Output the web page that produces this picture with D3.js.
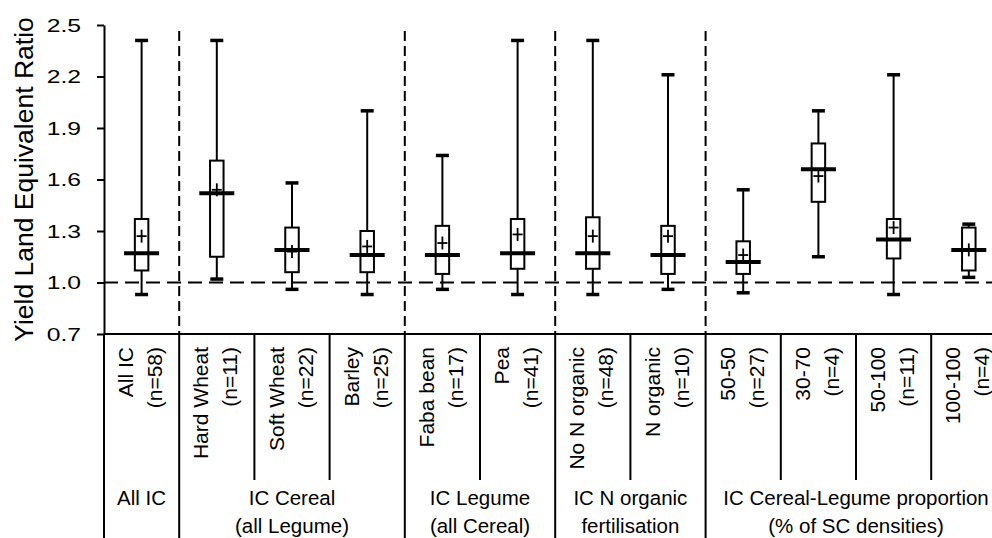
<!DOCTYPE html>
<html>
<head>
<meta charset="utf-8">
<script src="https://cdn.jsdelivr.net/npm/d3@7"></script>
<style>
  html, body { margin: 0; padding: 0; background: #fff; }
  svg { display: block; }
  text { font-family: "Liberation Sans", Arial, sans-serif; fill: #000; }
</style>
</head>
<body>
<svg id="chart" width="992" height="538"></svg>
<script>
// ---- data ----
const categories = ["All IC", "Hard Wheat", "Soft Wheat", "Barley", "Faba bean", "Pea",
                    "No N organic", "N organic", "50-50", "30-70", "50-100", "100-100"];
const sampleSizes = ["(n=58)", "(n=11)", "(n=22)", "(n=25)", "(n=17)", "(n=41)",
                     "(n=48)", "(n=10)", "(n=27)", "(n=4)", "(n=11)", "(n=4)"];
const minValues    = [0.93, 1.02, 0.96, 0.93, 0.96, 0.93, 0.93, 0.96, 0.94, 1.15, 0.93, 1.03];
const q1Values     = [1.07, 1.15, 1.06, 1.06, 1.05, 1.08, 1.08, 1.05, 1.05, 1.47, 1.14, 1.07];
const medianValues = [1.17, 1.52, 1.19, 1.16, 1.16, 1.17, 1.17, 1.16, 1.12, 1.66, 1.25, 1.19];
const meanValues   = [1.27, 1.54, 1.18, 1.21, 1.23, 1.28, 1.27, 1.27, 1.16, 1.62, 1.32, 1.19];
const q3Values     = [1.37, 1.71, 1.32, 1.30, 1.33, 1.37, 1.38, 1.33, 1.24, 1.81, 1.37, 1.32];
const maxValues    = [2.41, 2.41, 1.58, 2.00, 1.74, 2.41, 2.41, 2.21, 1.54, 2.00, 2.21, 1.34];

const groupTitles    = ["All IC", "IC Cereal", "IC Legume", "IC N organic", "IC Cereal-Legume proportion"];
const groupSubtitles = ["", "(all Legume)", "(all Cereal)", "fertilisation", "(% of SC densities)"];
const groupSizes     = [1, 3, 2, 2, 4];

const yTicks = [0.7, 1.0, 1.3, 1.6, 1.9, 2.2, 2.5];
const referenceValue = 1.0;
const yTitle = "Yield Land Equivalent Ratio";

// ---- layout ----
const svg = d3.select("#chart");
const W = 992, H = 538;
const plotLeft = 104, plotRight = 1006.4, plotTop = 25, axisY = 334;

const x = d3.scaleBand().domain(categories).range([plotLeft, plotRight]).padding(0);
const y = d3.scaleLinear().domain([0.7, 2.5]).range([axisY, plotTop]);

const ink = "#000";

// group starts
const groupStart = [];
let acc = 0;
groupSizes.forEach(s => { groupStart.push(acc); acc += s; });

// separators between groups (dashed above axis, solid below)
const sepG = svg.append("g");
groupStart.slice(1).forEach(i => {
  const xx = x(categories[i]);
  sepG.append("line").attr("x1", xx).attr("x2", xx).attr("y1", 31).attr("y2", axisY)
    .attr("stroke", ink).attr("stroke-width", 2).attr("stroke-dasharray", "10,5");
  sepG.append("line").attr("x1", xx).attr("x2", xx).attr("y1", axisY).attr("y2", H)
    .attr("stroke", ink).attr("stroke-width", 2);
});
// sub-separators within groups (below axis)
categories.forEach((c, i) => {
  if (i === 0 || groupStart.includes(i)) return;
  const xx = x(c);
  sepG.append("line").attr("x1", xx).attr("x2", xx).attr("y1", axisY).attr("y2", 480)
    .attr("stroke", ink).attr("stroke-width", 2);
});

// reference dashed line at 1.0
svg.append("line")
  .attr("x1", plotLeft).attr("x2", W).attr("y1", y(referenceValue)).attr("y2", y(referenceValue))
  .attr("stroke", ink).attr("stroke-width", 2).attr("stroke-dasharray", "14,7");

// y axis
const yAxis = d3.axisLeft(y).tickValues(yTicks).tickFormat(d3.format(".1f"))
  .tickSize(7).tickSizeOuter(0).tickPadding(10.7);
const yg = svg.append("g").attr("transform", `translate(${plotLeft},0)`).call(yAxis);
yg.select(".domain").attr("stroke", ink).attr("stroke-width", 2);
yg.selectAll(".tick line").attr("stroke", ink).attr("stroke-width", 2);
yg.selectAll(".tick text")
  .attr("font-size", 19)
  .attr("font-family", "'Liberation Sans', Arial, sans-serif")
  .attr("fill", ink)
  .attr("transform", "scale(1.3,1)");

// left axis extension below and x-axis line
svg.append("line").attr("x1", plotLeft).attr("x2", plotLeft).attr("y1", axisY).attr("y2", H)
  .attr("stroke", ink).attr("stroke-width", 2);
svg.append("line").attr("x1", plotLeft).attr("x2", plotRight).attr("y1", axisY).attr("y2", axisY)
  .attr("stroke", ink).attr("stroke-width", 2);

// y axis title
svg.append("text")
  .attr("transform", `translate(33,${(plotTop + axisY) / 2}) rotate(-90)`)
  .attr("text-anchor", "middle")
  .attr("font-size", 26.5)
  .text(yTitle);

// boxes
const boxW = 13.5, medW = 35, capW = 13, crossW = 10, crossH = 13;
const boxes = svg.append("g");
categories.forEach((c, i) => {
  const cx = x(c) + x.bandwidth() / 2;
  const g = boxes.append("g");
  g.append("line").attr("x1", cx).attr("x2", cx).attr("y1", y(maxValues[i])).attr("y2", y(q3Values[i]))
    .attr("stroke", ink).attr("stroke-width", 2);
  g.append("line").attr("x1", cx).attr("x2", cx).attr("y1", y(q1Values[i])).attr("y2", y(minValues[i]))
    .attr("stroke", ink).attr("stroke-width", 2);
  g.append("rect").attr("x", cx - boxW / 2).attr("width", boxW)
    .attr("y", y(q3Values[i])).attr("height", y(q1Values[i]) - y(q3Values[i]))
    .attr("fill", "#fff").attr("stroke", ink).attr("stroke-width", 2);
  [maxValues[i], minValues[i]].forEach(v => {
    g.append("line").attr("x1", cx - capW / 2).attr("x2", cx + capW / 2)
      .attr("y1", y(v)).attr("y2", y(v)).attr("stroke", ink).attr("stroke-width", 3.5);
  });
  g.append("line").attr("x1", cx - medW / 2).attr("x2", cx + medW / 2)
    .attr("y1", y(medianValues[i])).attr("y2", y(medianValues[i]))
    .attr("stroke", ink).attr("stroke-width", 4);
  const my = y(meanValues[i]);
  g.append("line").attr("x1", cx - crossW / 2).attr("x2", cx + crossW / 2).attr("y1", my).attr("y2", my)
    .attr("stroke", ink).attr("stroke-width", 1.8);
  g.append("line").attr("x1", cx).attr("x2", cx).attr("y1", my - crossH / 2).attr("y2", my + crossH / 2)
    .attr("stroke", ink).attr("stroke-width", 1.8);
});

// category labels (rotated, two lines)
const labG = svg.append("g");
categories.forEach((c, i) => {
  const cx = x(c) + x.bandwidth() / 2;
  labG.append("text")
    .attr("transform", `translate(${cx - 8.5},347) rotate(-90)`)
    .attr("text-anchor", "end").attr("font-size", 21).text(c);
  labG.append("text")
    .attr("transform", `translate(${cx + 20.5},347) rotate(-90)`)
    .attr("text-anchor", "end").attr("font-size", 21).text(sampleSizes[i]);
});

// group labels
groupTitles.forEach((t, gi) => {
  const s = groupStart[gi], e = s + groupSizes[gi] - 1;
  const gx = (x(categories[s]) + x(categories[e]) + x.bandwidth()) / 2;
  labG.append("text").attr("x", gx).attr("y", 504.5).attr("text-anchor", "middle")
    .attr("font-size", 20.5).text(t);
  if (groupSubtitles[gi]) {
    labG.append("text").attr("x", gx).attr("y", 532.5).attr("text-anchor", "middle")
      .attr("font-size", 20.5).text(groupSubtitles[gi]);
  }
});
</script>
</body>
</html>
